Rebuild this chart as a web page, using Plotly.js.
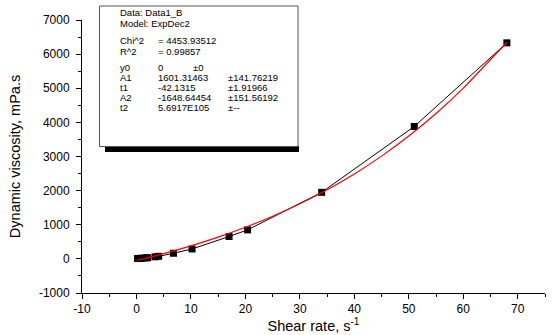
<!DOCTYPE html>
<html>
<head>
<meta charset="utf-8">
<script src="https://cdn.plot.ly/plotly-3.0.1.min.js"></script>
<style>html,body{margin:0;padding:0;background:#fff;}#chart{width:555px;height:335px;}</style>
</head>
<body>
<div id="chart"></div>
<script>
// Measured data
var shearRate = [0.204, 0.34, 0.68, 1.02, 1.7, 2.04, 3.4, 4.08, 6.8, 10.2, 17, 20.4, 34, 51, 68];
var viscosity = [10, 12, 15, 20, 28, 35, 60, 75, 165, 290, 655, 850, 1950, 3880, 6330];
// Fitted curve (ExpDec2)
var fitX = [0, 5, 10, 15, 20, 25, 30, 35, 40, 45, 50, 55, 60, 65, 68];
var fitY = [-47, 154, 382, 638, 926, 1250, 1615, 2026, 2490, 3011, 3598, 4259, 5004, 5842, 6340];
// Tick labels
var xTickVals = [-10, 0, 10, 20, 30, 40, 50, 60, 70];
var xTickText = ["-10", "0", "10", "20", "30", "40", "50", "60", "70"];
var yTickVals = [-1000, 0, 1000, 2000, 3000, 4000, 5000, 6000, 7000];
var yTickText = ["-1000", "0", "1000", "2000", "3000", "4000", "5000", "6000", "7000"];
// Fit report text
var reportHeader = ["Data: Data1_B", "Model: ExpDec2"];
var statLabels = ["Chi^2", "R^2"];
var statValues = ["= 4453.93512", "= 0.99857"];
var paramNames = ["y0", "A1", "t1", "A2", "t2"];
var paramValues = ["0", "1601.31463", "-42.1315", "-1648.64454", "5.6917E105"];
var paramErrors = ["\u00b10", "\u00b1141.76219", "\u00b11.91966", "\u00b1151.56192", "\u00b1--"];

var W = 555, H = 335, ML = 82, MR = 10, MT = 20, MB = 42;
function px(x){ return (x - ML) / (W - ML - MR); }
function py(y){ return (H - MB - y) / (H - MT - MB); }

var font = "Liberation Sans, Arial, sans-serif";
var traces = [
  {x: shearRate, y: viscosity, mode: "lines+markers", type: "scatter",
   line: {color: "#000", width: 1}, marker: {symbol: "square", size: 7, color: "#000"}},
  {x: fitX, y: fitY, mode: "lines", type: "scatter", line: {color: "#ff0000", width: 1.2, shape: "spline"}}
];

var ann = [];
function txt(x, y, s){
  ann.push({xref: "paper", yref: "paper", x: px(x), y: py(y), text: s, showarrow: false,
    xanchor: "left", yanchor: "middle", borderpad: 0,
    font: {family: font, size: 9.5, color: "#000"}});
}
var lh = 10;
txt(119, 12.5, reportHeader[0]);
txt(119, 23.5, reportHeader[1]);
for (var i = 0; i < statLabels.length; i++) {
  txt(119, 41 + i * lh, statLabels[i]);
  txt(157, 41 + i * lh, statValues[i]);
}
for (var j = 0; j < paramNames.length; j++) {
  var yy = 67 + j * lh;
  txt(119, yy, paramNames[j]);
  txt(157, yy, paramValues[j]);
  txt(j === 0 ? 192 : 227, yy, paramErrors[j]);
}

var shapes = [
  {type: "rect", xref: "paper", yref: "paper", x0: px(105), x1: px(299), y0: py(152), y1: py(146),
   fillcolor: "#000", line: {width: 0}},
  {type: "rect", xref: "paper", yref: "paper", x0: px(99.5), x1: px(298), y0: py(146.5), y1: py(6),
   fillcolor: "#fff", line: {color: "#555", width: 1}}
];

var layout = {
  width: W, height: H,
  margin: {l: ML, r: MR, t: MT, b: MB},
  paper_bgcolor: "#fff", plot_bgcolor: "rgba(0,0,0,0)",
  showlegend: false,
  font: {family: font, size: 12, color: "#000"},
  xaxis: {range: [-10, 75], tickmode: "array", tickvals: xTickVals, ticktext: xTickText,
    showgrid: false, zeroline: false,
    showline: true, linecolor: "#000", linewidth: 1, ticks: "outside", ticklen: 5, tickcolor: "#000",
    minor: {tickmode: "linear", tick0: 0, dtick: 5, ticks: "outside", ticklen: 3, tickcolor: "#000", showgrid: false},
    tickfont: {family: font, size: 12},
    title: {text: "Shear rate, s<sup>-1</sup>", font: {family: font, size: 14.5}, standoff: 5}},
  yaxis: {range: [-1000, 7000], tickmode: "array", tickvals: yTickVals, ticktext: yTickText,
    showgrid: false, zeroline: false, ticklabelstandoff: 4,
    showline: true, linecolor: "#000", linewidth: 1, ticks: "outside", ticklen: 5, tickcolor: "#000",
    minor: {tickmode: "linear", tick0: 0, dtick: 500, ticks: "outside", ticklen: 3, tickcolor: "#000", showgrid: false},
    tickfont: {family: font, size: 12},
    title: {text: "Dynamic viscosity, mPa.s", font: {family: font, size: 14.5}, standoff: 14}},
  shapes: shapes,
  annotations: ann
};
Plotly.newPlot("chart", traces, layout, {displayModeBar: false, staticPlot: true});
</script>
</body>
</html>
